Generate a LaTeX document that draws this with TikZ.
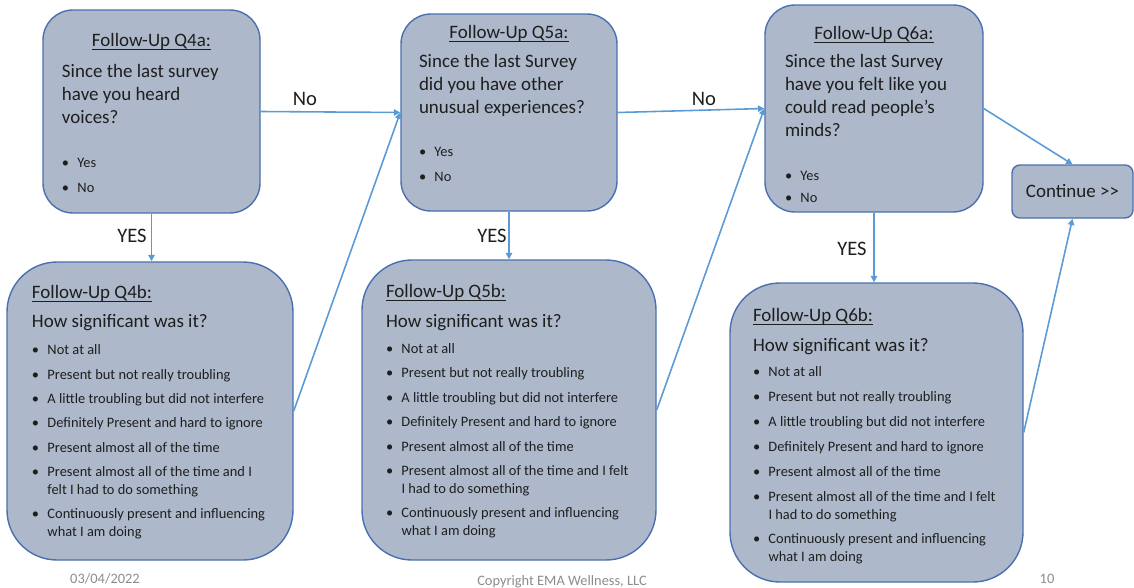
\documentclass[tikz,border=0pt]{standalone}
\usepackage{fontspec}
\setmainfont{Carlito}
\usetikzlibrary{arrows.meta}
\definecolor{boxfill}{HTML}{ADB9CA}
\definecolor{boxline}{HTML}{4A70B0}
\definecolor{linkblue}{HTML}{5B9BD5}
\definecolor{inktext}{HTML}{1E1E1E}
\definecolor{footgray}{HTML}{8C8C8C}
\newlength\pxu
\setlength\pxu{0.2mm}
\newcommand{\qfont}{\fontsize{10.8}{13}\selectfont}
\newcommand{\ifont}{\fontsize{8.2}{10}\selectfont}
\newcommand{\heading}[1]{\setbox0=\hbox{#1}\rlap{\rule[-1.6pt]{\wd0}{0.6pt}}\box0}
\newcommand{\bul}[2][3.9pt]{\par\vspace{#1}\hangindent=15.5\pxu\hangafter=1\noindent\makebox[15.5\pxu][l]{\textbullet}#2\par}
\newcommand{\panel}[3]{\parbox[c][#2\pxu][t]{#1\pxu}{#3}}
\begin{document}
\begin{tikzpicture}[x=0.2mm, y=-0.2mm,
  qbox/.style={draw=boxline, fill=boxfill, line width=0.8pt, inner sep=0pt, text=inktext, rounded corners=6mm},
  bigbox/.style={qbox, rounded corners=10mm},
  link/.style={draw=linkblue, line width=0.9pt, -{Triangle[length=3.6pt, width=3.6pt]}},
  lbl/.style={inner sep=0pt, text=inktext, font=\fontsize{11.7}{14}\selectfont},
  foot/.style={inner sep=0pt, text=footgray, font=\fontsize{8.2}{10}\selectfont}]
  \useasboundingbox (0,0) rectangle (1134,588);

  \node[qbox] (q4a) at (151.5,111.5) {\panel{217}{203}{\centering\qfont
    \rule{0pt}{21pt}\heading{Follow-Up Q4a:}\par
    \raggedright\leftskip=19\pxu\vspace{4.6pt}
    Since the last survey\\have you heard\\voices?\par
    \ifont\bul[14.9pt]{Yes}\bul[4.2pt]{No}}};
  \node[qbox] (q5a) at (509,112.5) {\panel{216}{197}{\centering\qfont
    \rule{0pt}{14.2pt}\heading{Follow-Up Q5a:}\par
    \raggedright\leftskip=18\pxu\vspace{3.4pt}
    Since the last Survey\\did you have other\\unusual experiences?\par
    \ifont\bul[14.4pt]{Yes}\bul[4.2pt]{No}}};
  \node[qbox] (q6a) at (874,108.5) {\panel{218}{207}{\centering\qfont
    \rule{0pt}{19.8pt}\heading{Follow-Up Q6a:}\par
    \raggedright\leftskip=20\pxu\vspace{2.9pt}
    Since the last Survey\\have you felt like you\\could read people's\\minds?\par
    \ifont\bul[14.9pt]{Yes}\bul[3pt]{No}}};
  \node[qbox, rounded corners=1.6mm, minimum width=121\pxu, minimum height=53\pxu, font=\qfont] (cont) at (1072.5,191.5) {Continue >\kern0pt>};

  \node[bigbox] (q4b) at (150,411) {\panel{286}{298}{\raggedright\leftskip=25\pxu\qfont
    \rule{0pt}{21pt}\heading{Follow-Up Q4b:}\par\vspace{3.4pt}
    How significant was it?\par
    \ifont\bul[5.3pt]{Not at all}\bul{Present but not really troubling}
    \bul{A little troubling but did not interfere}\bul{Definitely Present and hard to ignore}
    \bul{Present almost all of the time}\bul{Present almost all of the time and I\newline felt I had to do something}
    \bul{Continuously present and influencing\newline what I am doing}}};
  \node[bigbox] (q5b) at (509,410) {\panel{294}{300}{\raggedright\leftskip=24\pxu\qfont
    \rule{0pt}{21.5pt}\heading{Follow-Up Q5b:}\par\vspace{4pt}
    How significant was it?\par
    \ifont\bul[4.7pt]{Not at all}\bul{Present but not really troubling}
    \bul{A little troubling but did not interfere}\bul{Definitely Present and hard to ignore}
    \bul{Present almost all of the time}\bul{Present almost all of the time and I felt\newline I had to do something}
    \bul{Continuously present and influencing\newline what I am doing}}};
  \node[bigbox] (q6b) at (876.5,432.5) {\panel{293}{299}{\raggedright\leftskip=23\pxu\qfont
    \rule{0pt}{22.1pt}\heading{Follow-Up Q6b:}\par\vspace{4pt}
    How significant was it?\par
    \ifont\bul[4.2pt]{Not at all}\bul[4.2pt]{Present but not really troubling}
    \bul[4.2pt]{A little troubling but did not interfere}\bul[4.2pt]{Definitely Present and hard to ignore}
    \bul[4.2pt]{Present almost all of the time}\bul[4.2pt]{Present almost all of the time and I felt\newline I had to do something}
    \bul[4.2pt]{Continuously present and influencing\newline what I am doing}}};

  \draw[link] (q4a.east) -- (q5a.west);
  \draw[link] (q4a.south) -- (q4a.south |- q4b.north);
  \draw[link] (q4b.east) -- (q5a.west);
  \draw[link] (q5a.east) -- (q6a.west);
  \draw[link] (q5a.south) -- (q5b.north);
  \draw[link] (q5b.east) -- (q6a.west);
  \draw[link] (q6a.south) -- (q6a.south |- q6b.north);
  \draw[link] (q6a.east) -- (cont.north);
  \draw[link] (q6b.east) -- (cont.south);

  \node[lbl] (no1) at (305,99) {No};
  \node[lbl] (no2) at (704,98.5) {No};
  \node[lbl] (yes1) at (132,236) {YES};
  \node[lbl] (yes2) at (492,236) {YES};
  \node[lbl] (yes3) at (852,249) {YES};

  \node[foot, anchor=base] (date) at (105,583) {03/04/2022};
  \node[foot, anchor=base] (copyr) at (562,585) {Copyright EMA Wellness, LLC};
  \node[foot, anchor=base] (pagenum) at (1047,583) {10};
\end{tikzpicture}
\end{document}
